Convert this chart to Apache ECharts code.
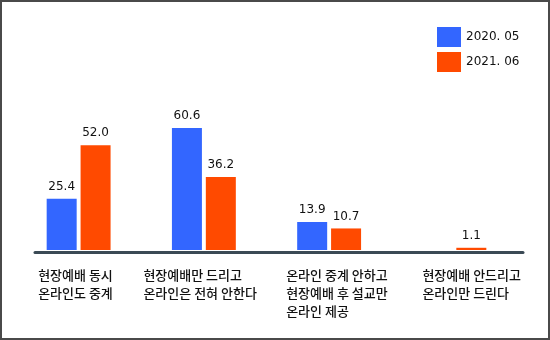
<!DOCTYPE html>
<html>
<head>
<meta charset="utf-8">
<script src="https://cdn.jsdelivr.net/npm/echarts@6/dist/echarts.min.js"></script>
<style>
  html, body { margin: 0; padding: 0; background: #fff; }
  #wrap { position: relative; width: 550px; height: 340px; }
  #chart { position: absolute; left: 0; top: 0; width: 550px; height: 340px; }
  #frame { position: absolute; left: 0; top: 0; width: 550px; height: 340px; box-sizing: border-box; border: 2px solid #4a4a4a; pointer-events: none; }
</style>
</head>
<body>
<div id="wrap"><div id="chart"></div><div id="frame"></div></div>
<script>
const categories = [
  '현장예배 동시\n온라인도 중계',
  '현장예배만 드리고\n온라인은 전혀 안한다',
  '온라인 중계 안하고\n현장예배 후 설교만\n온라인 제공',
  '현장예배 안드리고\n온라인만 드린다'
];
const seriesNames = ['2020. 05', '2021. 06'];
const values2020 = [25.4, 60.6, 13.9, null];
const values2021 = [52.0, 36.2, 10.7, 1.1];

const labelBlockWidths = [81, 121, 86, 64];
const rich = {};
labelBlockWidths.forEach((w, i) => {
  rich['w' + i] = { width: w, align: 'left', fontFamily: 'Noto Sans CJK KR', fontWeight: 500, fontSize: 13, lineHeight: 18, color: '#111' };
});

const valueLabel = {
  show: true, position: 'top', distance: 6,
  fontFamily: 'DejaVu Sans', fontSize: 12, color: '#111',
  formatter: p => p.value == null ? '' : Number(p.value).toFixed(1)
};

const chart = echarts.init(document.getElementById('chart'), null, { renderer: 'canvas' });
chart.setOption({
  animation: false,
  backgroundColor: '#fff',
  legend: {
    orient: 'vertical', left: 432, top: 22,
    itemWidth: 24, itemHeight: 20, itemGap: 5,
    icon: 'rect',
    textStyle: { fontFamily: 'DejaVu Sans', fontSize: 12, color: '#111' },
    data: seriesNames
  },
  grid: [
    { left: 16, right: 33, top: 109, bottom: 90 },
    { left: 35, right: 27, top: 109, bottom: 88 }
  ],
  xAxis: [
    {
      gridIndex: 0, type: 'category', data: categories,
      axisLine: { show: false }, axisTick: { show: false },
      axisLabel: {
        interval: 0, margin: 16,
        formatter: (value, index) => value.split('\n').map(l => '{w' + index + '|' + l + '}').join('\n'),
        rich: rich
      }
    },
    {
      gridIndex: 1, type: 'value', min: 0, max: 1,
      axisLine: { show: true, lineStyle: { color: '#3b4a55', width: 3 } },
      axisTick: { show: false }, axisLabel: { show: false }, splitLine: { show: false }
    }
  ],
  yAxis: [
    { gridIndex: 0, type: 'value', min: 0, max: 70, show: false },
    { gridIndex: 1, type: 'value', min: 0, max: 1, show: false }
  ],
  series: [
    {
      name: seriesNames[0], type: 'bar', xAxisIndex: 0, yAxisIndex: 0,
      data: values2020, barWidth: 30, barGap: '13%',
      itemStyle: { color: '#3366ff' }, label: valueLabel
    },
    {
      name: seriesNames[1], type: 'bar', xAxisIndex: 0, yAxisIndex: 0,
      data: values2021, barWidth: 30, barGap: '13%',
      itemStyle: { color: '#ff4a00' }, label: valueLabel
    }
  ]
});
</script>
</body>
</html>
